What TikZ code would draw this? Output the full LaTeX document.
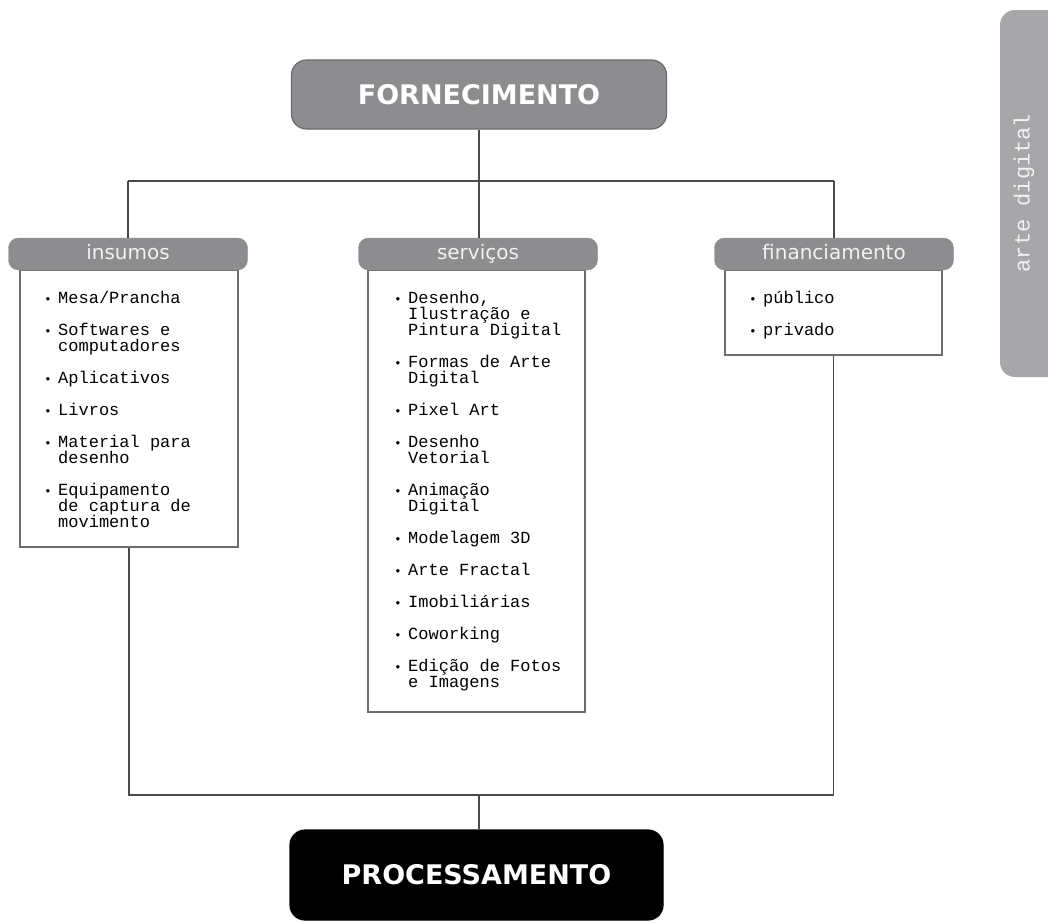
\documentclass[tikz,border=0pt]{standalone}
\usepackage{fontspec}
\setmainfont{DejaVu Sans}
\newfontfamily\monof{Liberation Mono}
\newfontfamily\headf{DejaVu Sans}
\definecolor{hdrgray}{HTML}{8D8D8F}
\definecolor{hdrline}{HTML}{6A6A6C}
\definecolor{tabgray}{HTML}{A7A7AA}
\definecolor{lngray}{HTML}{4A4A4A}
\definecolor{boxline}{HTML}{6E6E6E}
\definecolor{lighttxt}{HTML}{F2F2F2}
\newcommand{\bul}{\makebox[14pt][l]{\raisebox{0.5pt}{\scalebox{0.75}{\textbullet}}}}
\newcommand{\ind}{\makebox[14pt]{}}
\newcommand{\tightlines}{\lineskiplimit=-20pt\relax\lineskip=0pt\relax}
\begin{document}
\begin{tikzpicture}[x=1pt,y=-1pt,
  conn/.style={draw=lngray,line width=1.3pt},
  mainbox/.style={rounded corners=15pt,line width=1.2pt,inner sep=0pt,
     font=\headf\bfseries\fontsize{27}{30}\selectfont,text=white},
  hdr/.style={rounded corners=10pt,fill=hdrgray,draw=hdrgray,inner sep=0pt,
     minimum width=239pt,minimum height=32pt,text=lighttxt,
     text height=14pt,text depth=4pt,
     font=\headf\fontsize{20}{22}\selectfont},
  bodybox/.style={draw=boxline,fill=white,line width=1.2pt,inner sep=0pt},
  listtxt/.style={anchor=north west,inner sep=0pt,align=left,
     font=\monof\fontsize{17}{16}\selectfont\tightlines,text=black}]
\useasboundingbox (0,0) rectangle (1048,922);
\fill[white] (0,0) rectangle (1048,922);

% side tab
\fill[tabgray,rounded corners=15pt] (1000,10) rectangle (1080,377);
\node[rotate=90,text=lighttxt,font=\monof\fontsize{22}{24}\selectfont,inner sep=0pt] (tab) at (1024,193) {arte digital};

% main boxes
\node[mainbox,fill=hdrgray,draw=hdrline,minimum width=375pt,minimum height=69pt] (forn) at (479,94.5) {FORNECIMENTO};
\node[mainbox,fill=black,draw=black,minimum width=373pt,minimum height=90pt] (proc) at (476.5,875) {PROCESSAMENTO};

% hub coordinates
\coordinate (hub) at (479,181);
\coordinate (low) at (479,795);

% bodies
\node[bodybox,minimum width=218pt,minimum height=277pt] (insB) at (129,408.5) {};
\node[bodybox,minimum width=217pt,minimum height=442pt] (servB) at (476.5,491) {};
\node[bodybox,minimum width=217pt,minimum height=85pt] (finB) at (833.5,312.5) {};

% headers
\node[hdr] (insH) at (128,254) {insumos};
\node[hdr] (servH) at (478,254) {serviços};
\node[hdr] (finH) at (834,254) {financiamento};

% connectors
\draw[conn] (forn.south) -- (hub);
\draw[conn] (insH.north |- hub) -- (finH.north |- hub);
\draw[conn] (insH.north |- hub) -- (insH.north);
\draw[conn] (hub) -- (hub |- servH.north);
\draw[conn] (finH.north |- hub) -- (finH.north);
\draw[conn] (insB.south) -- (insB.south |- low) -- (finB.south |- low) -- (finB.south);
\draw[conn] (low) -- (low |- proc.north);

% lists
\node[listtxt] (insL) at (44,291) {%
\bul Mesa/Prancha\\[16pt]
\bul Softwares e\\
\ind computadores\\[16pt]
\bul Aplicativos\\[16pt]
\bul Livros\\[16pt]
\bul Material para\\
\ind desenho\\[16pt]
\bul Equipamento\\
\ind de captura de\\
\ind movimento};

\node[listtxt] (servL) at (394,291) {%
\bul Desenho,\\
\ind Ilustração e\\
\ind Pintura Digital\\[16pt]
\bul Formas de Arte\\
\ind Digital\\[16pt]
\bul Pixel Art\\[16pt]
\bul Desenho\\
\ind Vetorial\\[16pt]
\bul Animação\\
\ind Digital\\[16pt]
\bul Modelagem 3D\\[16pt]
\bul Arte Fractal\\[16pt]
\bul Imobiliárias\\[16pt]
\bul Coworking\\[16pt]
\bul Edição de Fotos\\
\ind e Imagens};

\node[listtxt] (finL) at (749,291) {%
\bul público\\[16pt]
\bul privado};
\end{tikzpicture}
\end{document}
